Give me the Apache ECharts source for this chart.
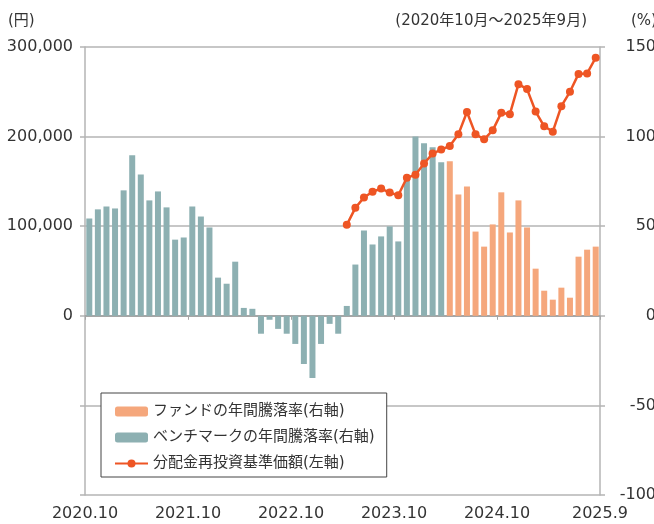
<!DOCTYPE html>
<html><head><meta charset="utf-8">
<script src="https://cdn.jsdelivr.net/npm/echarts@6/dist/echarts.min.js"></script>
<style>html,body{margin:0;padding:0;background:#fff}#c{width:654px;height:524px}</style>
</head><body><div id="c"></div>
<script>
// Categories: monthly, 2020.10 .. 2025.9 (60 months)
const months = [];
for (let y = 2020, m = 10; months.length < 60; ) {
  months.push(y + '.' + m);
  m++; if (m > 12) { m = 1; y++; }
}
// Benchmark annual return (%), right axis
const benchmarkReturn = [
  54.3, 59.4, 61.0, 59.9, 70.0, 89.6, 78.9, 64.4, 69.4, 60.5, 42.5, 43.7,
  61.0, 55.4, 49.3, 21.3, 17.9, 30.2, 4.4, 3.9, -10.0, -2.2, -7.3, -10.0,
  -15.7, -26.9, -34.7, -15.7, -4.5, -10.0, 5.5, 28.6, 47.6, 39.8, 44.3, 49.9,
  41.5, 76.1, 100.0, 96.3, 94.0, 85.7,
  null, null, null, null, null, null, null, null, null, null, null, null,
  null, null, null, null, null, null
];
// Fund annual return (%), right axis
const fundReturn = [
  null, null, null, null, null, null, null, null, null, null, null, null,
  null, null, null, null, null, null, null, null, null, null, null, null,
  null, null, null, null, null, null, null, null, null, null, null, null,
  null, null, null, null, null, null,
  86.2, 67.7, 72.2, 47.0, 38.6, 51.0, 68.9, 46.5, 64.4, 49.3, 26.3, 14.0,
  9.0, 15.7, 10.1, 33.0, 36.9, 38.6
];
// NAV with dividends reinvested (yen), left axis
const navReinvested = [
  null, null, null, null, null, null, null, null, null, null, null, null,
  null, null, null, null, null, null, null, null, null, null, null, null,
  null, null, null, null, null, null,
  101500, 120500, 132000, 138500, 142000, 137500, 134500, 154000, 157500, 170000,
  181000, 185500, 189500, 202500, 227500, 202500, 197000, 207000, 226500, 225000,
  258500, 253000, 228000, 211500, 205500, 234000, 250000, 270000, 270500, 288000
];
const xTickLabels = ['2020.10', '2021.10', '2022.10', '2023.10', '2024.10', '2025.9'];
const seriesNames = ['ファンドの年間騰落率(右軸)', 'ベンチマークの年間騰落率(右軸)', '分配金再投資基準価額(左軸)'];

const NUMFONT = "'DejaVu Sans','Noto Sans CJK JP',sans-serif";
const TXT = '#333';
const GRIDC = '#b4b4b4';

const chart = echarts.init(document.getElementById('c'), null, {renderer: 'canvas'});
chart.setOption({
  animation: false,
  backgroundColor: '#fff',
  title: [
    {text: '(円)', left: 3, top: 9, textStyle: {fontSize: 15, fontWeight: 'normal', color: TXT, fontFamily: NUMFONT}},
    {text: '(2020年10月～2025年9月)', right: 62, top: 9, textStyle: {fontSize: 15, fontWeight: 'normal', color: TXT, fontFamily: NUMFONT}},
    {text: '(%)', left: 626, top: 9, textStyle: {fontSize: 15, fontWeight: 'normal', color: TXT, fontFamily: NUMFONT}}
  ],
  grid: {left: 85, right: 54, top: 47, bottom: 29, containLabel: false, outerBoundsMode: 'none'},
  legend: {
    orient: 'vertical', left: 101, top: 393,
    backgroundColor: '#fff', borderColor: '#444', borderWidth: 1, borderRadius: 0,
    padding: [11, 12, 6, 13], itemGap: 11, itemWidth: 33, itemHeight: 10,
    textStyle: {fontSize: 15, color: TXT, fontFamily: NUMFONT},
    data: seriesNames
  },
  xAxis: [
    {
      type: 'category', data: months, boundaryGap: true,
      axisLine: {show: true, onZero: true, lineStyle: {color: '#a6a6a6', width: 2}},
      axisTick: {show: true, length: 4, interval: function (i) { return i % 12 === 0; }, lineStyle: {color: '#a6a6a6'}},
      axisLabel: {show: false},
      splitLine: {show: false}
    },
    {
      type: 'value', min: 0, max: 60, interval: 12, position: 'bottom',
      axisLine: {show: false}, axisTick: {show: false}, splitLine: {show: false},
      axisLabel: {
        show: true, margin: 11, fontSize: 16, color: TXT, fontFamily: NUMFONT,
        showMinLabel: true, showMaxLabel: true,
        formatter: function (v) { return xTickLabels[Math.round(v / 12)]; }
      }
    }
  ],
  yAxis: [
    {
      type: 'value', min: -200000, max: 300000, interval: 100000, position: 'left',
      axisLine: {show: true, lineStyle: {color: GRIDC, width: 1.5}},
      axisTick: {show: true, length: 5, lineStyle: {color: GRIDC, width: 1.5}},
      splitLine: {show: true, lineStyle: {color: GRIDC, width: 1.5}},
      axisLabel: {
        margin: 12, fontSize: 16, color: TXT, fontFamily: NUMFONT,
        formatter: function (v) { return v < 0 ? '' : v.toLocaleString('en-US'); }
      }
    },
    {
      type: 'value', min: -100, max: 150, interval: 50, position: 'right',
      axisLine: {show: true, lineStyle: {color: GRIDC, width: 1.5}},
      axisTick: {show: true, length: 5, lineStyle: {color: GRIDC, width: 1.5}},
      splitLine: {show: false},
      axisLabel: {margin: 56, align: 'right', fontSize: 16, color: TXT, fontFamily: NUMFONT}
    }
  ],
  series: [
    {
      name: seriesNames[0], type: 'bar', xAxisIndex: 0, yAxisIndex: 1,
      data: fundReturn, barWidth: 6, barGap: '-100%',
      itemStyle: {color: '#F5A77C'}, z: 2
    },
    {
      name: seriesNames[1], type: 'bar', xAxisIndex: 0, yAxisIndex: 1,
      data: benchmarkReturn, barWidth: 6, barGap: '-100%',
      itemStyle: {color: '#8DB0B2'}, z: 2
    },
    {
      name: seriesNames[2], type: 'line', xAxisIndex: 0, yAxisIndex: 0,
      data: navReinvested, symbol: 'circle', symbolSize: 8, showAllSymbol: true, connectNulls: false,
      lineStyle: {color: '#EE5524', width: 2.5}, itemStyle: {color: '#EE5524'}, z: 5
    }
  ]
});
</script></body></html>
